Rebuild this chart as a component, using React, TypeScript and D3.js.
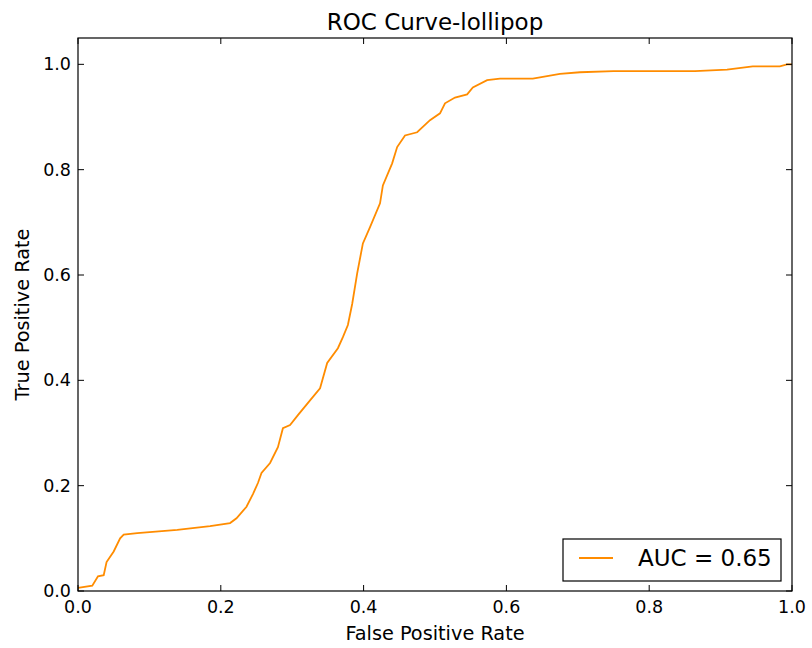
import React from "react";
import * as d3 from "d3";

const fpr = [
  0, 0.02, 0.028, 0.036, 0.04, 0.05, 0.059, 0.064, 0.083, 0.139, 0.185, 0.213,
  0.222, 0.236, 0.245, 0.252, 0.257, 0.269, 0.28, 0.287, 0.297, 0.308, 0.325,
  0.339, 0.349, 0.364, 0.371, 0.378, 0.384, 0.391, 0.399, 0.409, 0.423, 0.427,
  0.44, 0.447, 0.458, 0.475, 0.493, 0.507, 0.514, 0.528, 0.545, 0.553, 0.573,
  0.591, 0.637, 0.675, 0.703, 0.75, 0.864, 0.909, 0.945, 0.983, 0.993, 1,
];
const tpr = [
  0.006, 0.01, 0.028, 0.03, 0.055, 0.075, 0.1, 0.107, 0.11, 0.116, 0.123, 0.129,
  0.138, 0.16, 0.184, 0.205, 0.224, 0.243, 0.273, 0.309, 0.315, 0.334, 0.362,
  0.385, 0.433, 0.461, 0.482, 0.505, 0.545, 0.603, 0.66, 0.691, 0.736, 0.77,
  0.812, 0.843, 0.865, 0.871, 0.894, 0.907, 0.926, 0.937, 0.943, 0.956, 0.97,
  0.973, 0.973, 0.982, 0.985, 0.987, 0.987, 0.99, 0.996, 0.996, 1, 1,
];
const ticks = [0, 0.2, 0.4, 0.6, 0.8, 1.0];
const legendLabel = "AUC = 0.65";
const orange = "#ff8c00";

const W = 812;
const H = 648;
const m = { left: 78, right: 20, top: 38, bottom: 57 };

export default function App() {
  const x = d3.scaleLinear().domain([0, 1]).range([m.left, W - m.right]);
  const y = d3.scaleLinear().domain([0, 1.05]).range([H - m.bottom, m.top]);
  const pts = fpr.map((f, i) => [f, tpr[i]] as [number, number]);
  const path = d3.line<[number, number]>().x(d => x(d[0])).y(d => y(d[1]))(pts);
  const font = "DejaVu Sans, sans-serif";
  const x0 = x(0), x1 = x(1), y0 = y(0), y1 = y(1.05);
  const tl = 6;

  return (
    <svg width={W} height={H} style={{ position: "absolute", left: 0, top: 0 }} fontFamily={font}>
      <rect width={W} height={H} fill="white" />
      <path d={path || ""} fill="none" stroke={orange} strokeWidth={1.8} />
      {ticks.map(t => (
        <g key={"x" + t}>
          <line x1={x(t)} x2={x(t)} y1={y0} y2={y0 - tl} stroke="black" />
          <line x1={x(t)} x2={x(t)} y1={y1} y2={y1 + tl} stroke="black" />
          <text x={x(t)} y={613} fontSize={17.5} textAnchor="middle">{t.toFixed(1)}</text>
        </g>
      ))}
      {ticks.map(t => (
        <g key={"y" + t}>
          <line x1={x0} x2={x0 + tl} y1={y(t)} y2={y(t)} stroke="black" />
          <line x1={x1} x2={x1 - tl} y1={y(t)} y2={y(t)} stroke="black" />
          <text x={x0 - 7} y={y(t) + 6} fontSize={17.5} textAnchor="end">{t.toFixed(1)}</text>
        </g>
      ))}
      <rect x={x0} y={y1} width={x1 - x0} height={y0 - y1} fill="none" stroke="black" strokeWidth={1.2} />
      <text x={(x0 + x1) / 2} y={30} fontSize={23} textAnchor="middle">ROC Curve-lollipop</text>
      <text x={(x0 + x1) / 2} y={640} fontSize={19.3} textAnchor="middle">False Positive Rate</text>
      <text transform={`translate(29,${(y0 + y1) / 2}) rotate(-90)`} fontSize={19.3} textAnchor="middle">True Positive Rate</text>
      <g>
        <rect x={563} y={539} width={218} height={42} fill="white" stroke="black" strokeWidth={1.2} />
        <line x1={579} x2={613} y1={558} y2={558} stroke={orange} strokeWidth={1.8} />
        <text x={638} y={566} fontSize={23} >{legendLabel}</text>
      </g>
    </svg>
  );
}
